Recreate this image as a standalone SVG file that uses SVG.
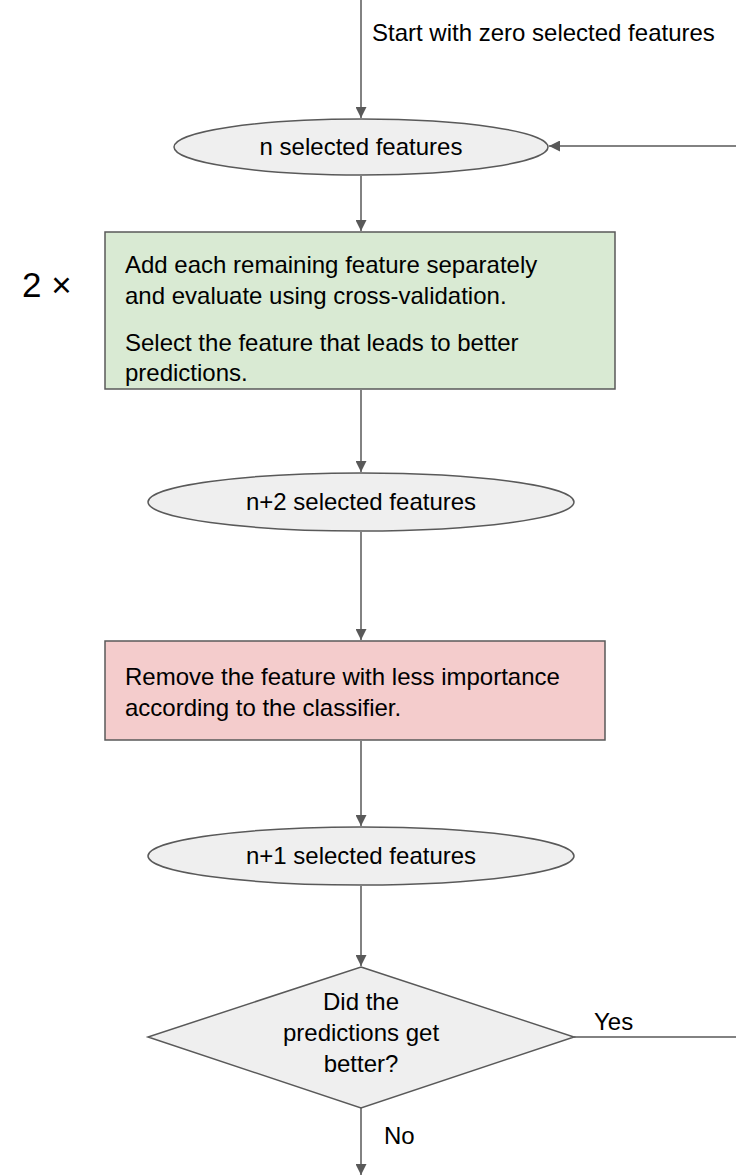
<svg xmlns="http://www.w3.org/2000/svg" width="736" height="1175" viewBox="0 0 736 1175">
  <style>
    text { font-family: "Liberation Sans", Arial, sans-serif; fill: #000; font-size: 24px; }
    text.big { font-size: 35px; }
    .edge { fill: none; stroke: #595959; stroke-width: 1.5; }
    .term { fill: #efefef; stroke: #595959; stroke-width: 1.5; }
  </style>
  <defs>
    <marker id="arrow" viewBox="0 0 10 10" refX="10" refY="5" markerWidth="11" markerHeight="11" markerUnits="userSpaceOnUse" orient="auto">
      <path d="M0,0 L10,5 L0,10 z" fill="#595959"/>
    </marker>
  </defs>
  <rect width="736" height="1175" fill="#fff"/>

  <g id="connectors">
    <line class="edge" x1="361" y1="0" x2="361" y2="118" marker-end="url(#arrow)"/>
    <line class="edge" x1="736" y1="146" x2="549" y2="146" marker-end="url(#arrow)"/>
    <line class="edge" x1="361" y1="176" x2="361" y2="231" marker-end="url(#arrow)"/>
    <line class="edge" x1="361" y1="390" x2="361" y2="472" marker-end="url(#arrow)"/>
    <line class="edge" x1="361" y1="532" x2="361" y2="640" marker-end="url(#arrow)"/>
    <line class="edge" x1="361" y1="741" x2="361" y2="826" marker-end="url(#arrow)"/>
    <line class="edge" x1="361" y1="886" x2="361" y2="966" marker-end="url(#arrow)"/>
    <line class="edge" x1="574" y1="1037" x2="736" y2="1037"/>
    <line class="edge" x1="361" y1="1108" x2="361" y2="1175" marker-end="url(#arrow)"/>
    <text x="372" y="41">Start with zero selected features</text>
    <text x="594" y="1030">Yes</text>
    <text x="384" y="1144">No</text>
  </g>

  <g id="n-selected">
    <ellipse class="term" cx="361" cy="147" rx="187" ry="28"/>
    <text x="361" y="155" text-anchor="middle">n selected features</text>
  </g>

  <g id="add-features">
    <rect x="105" y="232" width="510" height="157" fill="#d9ead3" stroke="#595959" stroke-width="1.5"/>
    <text x="125" y="273">Add each remaining feature separately</text>
    <text x="125" y="304">and evaluate using cross-validation.</text>
    <text x="125" y="351">Select the feature that leads to better</text>
    <text x="125" y="381">predictions.</text>
  </g>

  <g id="repeat-label">
    <text class="big" x="22" y="297">2 ×</text>
  </g>

  <g id="n2-selected">
    <ellipse class="term" cx="361" cy="502" rx="213" ry="29"/>
    <text x="361" y="510" text-anchor="middle">n+2 selected features</text>
  </g>

  <g id="remove-feature">
    <rect x="105" y="641" width="500" height="99" fill="#f4cccc" stroke="#595959" stroke-width="1.5"/>
    <text x="125" y="685">Remove the feature with less importance</text>
    <text x="125" y="716">according to the classifier.</text>
  </g>

  <g id="n1-selected">
    <ellipse class="term" cx="361" cy="856" rx="213" ry="29"/>
    <text x="361" y="864" text-anchor="middle">n+1 selected features</text>
  </g>

  <g id="decision">
    <polygon class="term" points="361,967 574,1037 361,1108 148,1037"/>
    <text x="361" y="1010" text-anchor="middle">Did the</text>
    <text x="361" y="1041" text-anchor="middle">predictions get</text>
    <text x="361" y="1072" text-anchor="middle">better?</text>
  </g>
</svg>
